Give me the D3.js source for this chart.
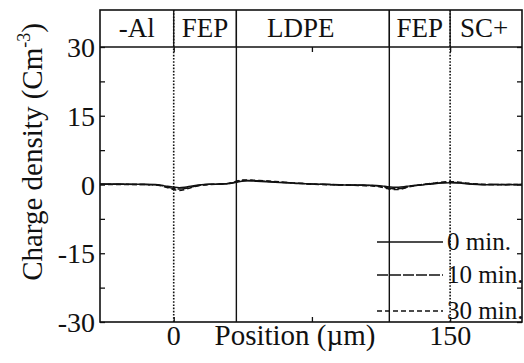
<!DOCTYPE html>
<html>
<head>
<meta charset="utf-8">
<script src="https://cdn.jsdelivr.net/npm/d3@7"></script>
<style>
  html, body { margin: 0; padding: 0; background: #fff; }
  svg { display: block; }
</style>
</head>
<body>
<svg id="chart" width="524" height="363"></svg>
<script>
// Positions along the sample (µm)
const positions = [-40, -30, -20, -10, -5, 0, 3, 6, 10, 15, 20, 25, 30, 34, 37, 40, 45, 50, 55, 60,
  65, 70, 75, 80, 85, 90, 95, 100, 105, 110, 113, 116, 119, 122, 125, 128, 131, 135, 140, 145,
  150, 155, 160, 165, 170, 175, 180, 185, 189];

// Charge density (C m^-3) after each poling time
const rho0 = [0.1, 0.1, 0.05, 0, -0.3, -0.6, -0.7, -0.6, -0.3, -0.05, 0.05, 0.1, 0.2, 0.5, 0.7, 0.8,
  0.7, 0.6, 0.5, 0.4, 0.3, 0.2, 0.1, 0.05, 0, -0.1, -0.1, -0.1, -0.15, -0.2, -0.3, -0.5, -0.6,
  -0.6, -0.5, -0.3, -0.2, -0.1, 0.1, 0.3, 0.4, 0.3, 0.1, 0, -0.05, 0, 0, -0.05, 0];
const rho10 = [0.05, 0.05, 0, -0.05, -0.4, -0.9, -1.0, -0.9, -0.5, -0.1, 0.05, 0.1, 0.2, 0.6, 0.9, 0.9,
  0.8, 0.7, 0.6, 0.45, 0.3, 0.2, 0.1, 0.05, 0, -0.05, -0.1, -0.15, -0.2, -0.3, -0.5, -0.7, -0.9,
  -0.9, -0.7, -0.4, -0.2, 0, 0.2, 0.4, 0.5, 0.4, 0.2, 0.05, 0, 0, -0.05, 0, 0];
const rho30 = [0, 0, 0, -0.1, -0.5, -1.1, -1.3, -1.1, -0.6, -0.15, 0, 0.1, 0.25, 0.7, 1.0, 1.0,
  0.9, 0.8, 0.65, 0.5, 0.35, 0.2, 0.1, 0, -0.05, -0.1, -0.15, -0.2, -0.25, -0.4, -0.6, -0.9, -1.1,
  -1.1, -0.8, -0.5, -0.25, 0, 0.25, 0.5, 0.6, 0.5, 0.25, 0.1, 0, -0.05, -0.05, 0, 0];

const seriesLabels = ["0 min.", "10 min.", "30 min."];
const seriesValues = [rho0, rho10, rho30];

// Layer boundaries (µm) and layer names
const boundaries = [0, 34, 117, 150];
const dottedBoundaries = [0, 150];
const layerNames = ["-Al", "FEP", "LDPE", "FEP", "SC+"];

const yTicks = [-30, -15, 0, 15, 30];
const yMinorTicks = [-30, -22.5, -15, -7.5, 0, 7.5, 15, 22.5, 30];
const xTicks = [0, 75, 150];
const xTickLabels = ["0", "150"];

// ---- layout ----
const svg = d3.select("#chart");
const left = 100, right = 522, plotTop = 47, bottom = 322, headerTop = 10;
const x = d3.scaleLinear().domain([-40, 189]).range([left, right]);
const y = d3.scaleLinear().domain([-30, 30]).range([bottom, plotTop]);
const dashes = [null, "11,2", "5,3"];
const ink = "#111";

// every label uses the same serif face
function label(sel, size) {
  return sel.style("font-family", '"Liberation Serif"')
    .style("font-size", size + "px")
    .attr("fill", ink);
}

// layer boundary lines through the plot
svg.append("g").selectAll("line").data(boundaries).join("line")
  .attr("x1", d => x(d)).attr("x2", d => x(d))
  .attr("y1", headerTop).attr("y2", bottom)
  .attr("stroke", ink)
  .attr("stroke-width", d => dottedBoundaries.includes(d) ? 1.6 : 1.4)
  .attr("stroke-dasharray", d => dottedBoundaries.includes(d) ? "1.6,1.6" : null);

// header dividers are solid
svg.append("g").selectAll("line").data(boundaries).join("line")
  .attr("x1", d => x(d)).attr("x2", d => x(d))
  .attr("y1", headerTop).attr("y2", plotTop)
  .attr("stroke", ink).attr("stroke-width", 1.3);

// frame
svg.append("rect")
  .attr("x", left).attr("y", headerTop)
  .attr("width", right - left).attr("height", bottom - headerTop)
  .attr("fill", "none").attr("stroke", ink).attr("stroke-width", 1.6);
svg.append("line")
  .attr("x1", left).attr("x2", right).attr("y1", plotTop).attr("y2", plotTop)
  .attr("stroke", ink).attr("stroke-width", 1.4);

// layer names in the header band
const edges = [x.domain()[0], ...boundaries, x.domain()[1]];
const nameOffsets = [0, 0, -12, 0, -2];
label(svg.append("g").selectAll("text").data(layerNames).join("text"), 27)
  .attr("x", (d, i) => (x(edges[i]) + x(edges[i + 1])) / 2 + nameOffsets[i])
  .attr("y", 37)
  .attr("text-anchor", "middle")
  .text(d => d);

// y axis: inward ticks on both sides
const yAxisL = d3.axisRight(y).tickValues(yMinorTicks).tickSize(5).tickFormat("");
const yAxisR = d3.axisLeft(y).tickValues(yMinorTicks).tickSize(5).tickFormat("");
[[yAxisL, left], [yAxisR, right]].forEach(([ax, pos]) => {
  const g = svg.append("g").attr("transform", `translate(${pos},0)`).call(ax);
  g.select(".domain").remove();
  g.selectAll("line").attr("stroke", ink).attr("stroke-width", 1.3);
});

// y tick labels
label(svg.append("g").selectAll("text").data(yTicks).join("text"), 28)
  .attr("x", 95).attr("y", d => y(d) + 10)
  .attr("text-anchor", "end")
  .text(d => d);

// x axis: inward ticks at bottom and under the header
const xAxisB = d3.axisTop(x).tickValues(xTicks).tickSize(5).tickFormat("");
const xAxisT = d3.axisBottom(x).tickValues(xTicks).tickSize(5).tickFormat("");
[[xAxisB, bottom], [xAxisT, plotTop]].forEach(([ax, pos]) => {
  const g = svg.append("g").attr("transform", `translate(0,${pos})`).call(ax);
  g.select(".domain").remove();
  g.selectAll("line").attr("stroke", ink).attr("stroke-width", 1.3);
});

label(svg.append("g").selectAll("text").data(xTickLabels).join("text"), 28)
  .attr("x", d => x(+d)).attr("y", 345)
  .attr("text-anchor", "middle")
  .text(d => d);

// axis titles
label(svg.append("text"), 29)
  .attr("x", 295).attr("y", 345)
  .attr("text-anchor", "middle")
  .text("Position (µm)");

const yt = label(svg.append("text"), 29)
  .attr("transform", "translate(42,152) rotate(-90)")
  .attr("text-anchor", "middle");
yt.append("tspan").text("Charge density (Cm");
yt.append("tspan").style("font-size", "18px").attr("dy", -12).text("-3");
yt.append("tspan").attr("dy", 12).text(")");

// charge density curves
const line = d3.line().x((d, i) => x(positions[i])).y(d => y(d)).curve(d3.curveMonotoneX);
svg.append("g").selectAll("path").data(seriesValues).join("path")
  .attr("d", d => line(d))
  .attr("fill", "none")
  .attr("stroke", ink)
  .attr("stroke-width", 1.5)
  .attr("stroke-dasharray", (d, i) => dashes[i]);

// legend
const legendY = [242, 275, 311];
const lg = svg.append("g").selectAll("g").data(seriesLabels).join("g")
  .attr("transform", (d, i) => `translate(0,${legendY[i]})`);
lg.append("line")
  .attr("x1", 377).attr("x2", 443).attr("y1", 0).attr("y2", 0)
  .attr("stroke", ink).attr("stroke-width", 1.5)
  .attr("stroke-dasharray", (d, i) => dashes[i]);
label(lg.append("text"), 25)
  .attr("x", 447).attr("y", 8)
  .text(d => d);
</script>
</body>
</html>
